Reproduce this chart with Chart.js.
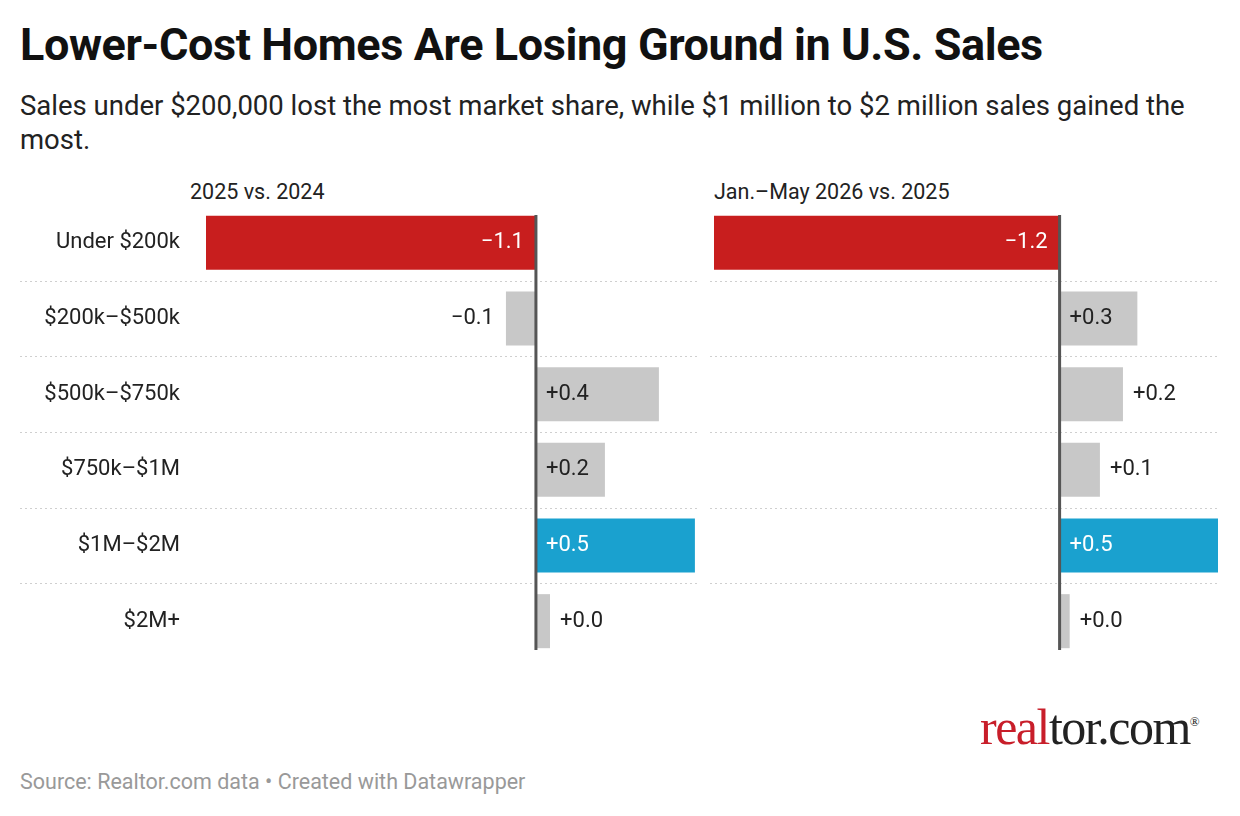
<!DOCTYPE html>
<html><head><meta charset="utf-8">
<script src="https://cdn.jsdelivr.net/npm/chart.js@4"></script>
<style>
body{margin:0;width:1240px;height:816px;background:#fff;font-family:Roboto,sans-serif;position:relative;overflow:hidden}
h1{position:absolute;left:20px;top:18px;margin:0;font-size:45px;font-weight:700;color:#111;letter-spacing:-0.4px}
.sub{position:absolute;left:20px;top:89px;width:1200px;font-size:27.5px;line-height:34px;color:#222}
.ph{position:absolute;top:179px;font-size:21.5px;color:#222}
.box{position:absolute}
.logo{position:absolute;left:980px;top:698px;font-family:"Liberation Serif","DejaVu Serif",serif;font-size:50px;color:#222;letter-spacing:-1.5px}
.logo span{color:#c81e2a}
.foot{position:absolute;left:20px;top:769px;font-size:21.5px;color:#999}
</style></head><body>
<h1>Lower-Cost Homes Are Losing Ground in U.S. Sales</h1>
<div class="sub">Sales under $200,000 lost the most market share, while $1 million to $2 million sales gained the most.</div>
<div class="ph" style="left:190px">2025 vs. 2024</div>
<div class="ph" style="left:714px">Jan.–May 2026 vs. 2025</div>
<canvas id="c1" width="690" height="454" class="box" style="left:20px;top:205px;width:690px;height:454px"></canvas>
<canvas id="c2" width="520" height="454" class="box" style="left:710px;top:205px;width:520px;height:454px"></canvas>
<div class="logo"><span>real</span>tor.com<sup style="font-size:13px">®</sup></div>
<div class="foot">Source: Realtor.com data • Created with Datawrapper</div>
<script>
const categories = ['Under $200k', '$200k–$500k', '$500k–$750k', '$750k–$1M', '$1M–$2M', '$2M+'];
const change2025 = [-1.1, -0.1, 0.41, 0.23, 0.53, 0.047];
const change2026 = [-1.2, 0.27, 0.22, 0.14, 0.55, 0.035];
const labels2025 = ['−1.1', '−0.1', '+0.4', '+0.2', '+0.5', '+0.0'];
const labels2026 = ['−1.2', '+0.3', '+0.2', '+0.1', '+0.5', '+0.0'];
const barColors = ['#c81e1e', '#c8c8c8', '#c8c8c8', '#c8c8c8', '#1aa1cf', '#c8c8c8'];

const decor = {
  id: 'decor',
  beforeDatasetsDraw(chart, args, opts) {
    const ctx = chart.ctx, y = chart.scales.y, ca = chart.chartArea;
    ctx.save();
    ctx.strokeStyle = '#cfcfcf'; ctx.lineWidth = 1; ctx.setLineDash([2, 3]);
    for (let i = 1; i < categories.length; i++) {
      const yy = Math.round((y.getPixelForValue(i - 1) + y.getPixelForValue(i)) / 2) + 0.5;
      ctx.beginPath(); ctx.moveTo(0, yy); ctx.lineTo(ca.right, yy); ctx.stroke();
    }
    ctx.setLineDash([]);
    if (opts.showCats) {
      ctx.font = '22px Roboto'; ctx.fillStyle = '#222';
      ctx.textAlign = 'right'; ctx.textBaseline = 'middle';
      categories.forEach((c, i) => ctx.fillText(c, ca.left - 26, y.getPixelForValue(i)));
    }
    ctx.restore();
  },
  afterDatasetsDraw(chart, args, opts) {
    const ctx = chart.ctx, x = chart.scales.x, ca = chart.chartArea;
    const meta = chart.getDatasetMeta(0);
    const x0 = x.getPixelForValue(0);
    ctx.save();
    ctx.strokeStyle = '#555'; ctx.lineWidth = 3;
    ctx.beginPath(); ctx.moveTo(x0, ca.top + 10); ctx.lineTo(x0, ca.bottom - 9); ctx.stroke();
    ctx.font = '22px Roboto'; ctx.textBaseline = 'middle';
    meta.data.forEach((bar, i) => {
      const v = chart.data.datasets[0].data[i];
      const w = Math.abs(bar.x - x0);
      const txt = opts.labels[i];
      const inside = w > 66;
      const colored = barColors[i] !== '#c8c8c8';
      ctx.fillStyle = inside && colored ? '#fff' : '#222';
      if (v < 0) {
        ctx.textAlign = 'right';
        ctx.fillText(txt, inside ? x0 - 12 : bar.x - 12, bar.y);
      } else {
        ctx.textAlign = 'left';
        ctx.fillText(txt, inside ? x0 + 10 : bar.x + 10, bar.y);
      }
    });
    ctx.restore();
  }
};

function makeChart(id, data, lbls, min, max, showCats, padL, padR) {
  return new Chart(document.getElementById(id), {
    type: 'bar',
    data: { labels: categories, datasets: [{ data: data, backgroundColor: barColors,
      barPercentage: 0.714, categoryPercentage: 1 }] },
    options: {
      indexAxis: 'y', responsive: false, animation: false,
      layout: { padding: { left: padL, right: padR, top: 0, bottom: 0 } },
      plugins: { legend: { display: false }, tooltip: { enabled: false }, decor: { labels: lbls, showCats: showCats } },
      scales: {
        x: { display: false, min: min, max: max },
        y: { display: false }
      }
    },
    plugins: [decor]
  });
}
makeChart('c1', change2025, labels2025, -1.1, 0.547, true, 186, 10);
makeChart('c2', change2026, labels2026, -1.2, 0.55, false, 4, 12);
</script>
</body></html>
